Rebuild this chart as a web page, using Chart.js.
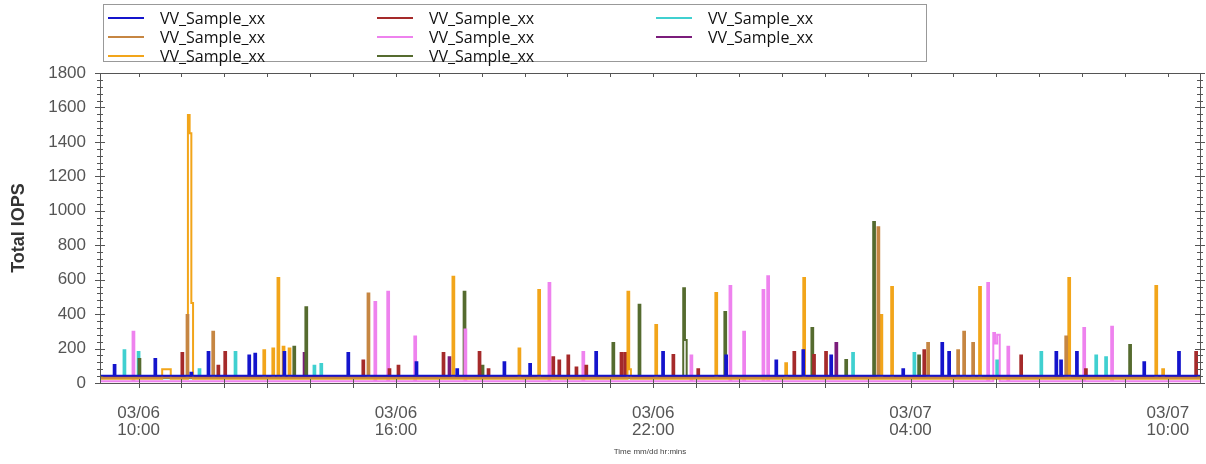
<!DOCTYPE html>
<html>
<head>
  <title>Total IOPS</title>
  <script src="https://cdn.jsdelivr.net/npm/chart.js"></script>
  <style>
    body { margin: 0; background: #fff; }
    #wrap { position: relative; width: 1206px; height: 464px; }
    #legend {
      position: absolute; left: 103px; top: 4px; width: 824px; height: 58px;
      border: 1px solid #999; background: #fff; box-sizing: border-box;
      font-family: "Open Sans", "Noto Sans", sans-serif; font-size: 16px; color: #111;
    }
    .item { position: absolute; height: 20px; line-height: 20px; white-space: nowrap; }
    .item span.swatch { position: absolute; left: 0; top: 9px; width: 36px; height: 2px; }
    .item span.name { position: absolute; left: 52px; top: 0; }
  </style>
</head>
<body>
  <div id="wrap">
    <canvas id="iopsChart" width="1206" height="464"></canvas>
    <div id="legend"></div>
  </div>

  <script>
    // time is in hours from 03/06 00:00
    const seriesNames = ["VV_Sample_xx", "VV_Sample_xx", "VV_Sample_xx", "VV_Sample_xx",
                         "VV_Sample_xx", "VV_Sample_xx", "VV_Sample_xx", "VV_Sample_xx"];
    const seriesColors = ["#1414CC", "#C68642", "#F2A51A", "#A52A2A",
                          "#EE82EE", "#556B2F", "#40D0D0", "#7B1C7B"];

    const blueIops = [[9.1,42],[9.42,105],[9.46,42],[10.37,140],[10.41,42],[11.21,60],[11.25,42],[11.61,180],[11.65,42],
      [12.56,160],[12.60,42],[12.70,170],[12.74,42],[13.38,180],[13.42,42],[14.87,174],[14.91,42],[16.46,120],[16.50,42],
      [17.41,80],[17.45,42],[18.51,120],[18.55,42],[19.11,110],[19.15,42],[20.65,180],[20.69,42],[22.21,180],[22.25,42],
      [23.68,160],[23.72,42],[24.85,130],[24.89,42],[25.48,190],[25.52,42],[26.13,160],[26.17,42],[27.81,80],[27.85,42],
      [28.72,232],[28.76,42],[28.88,180],[28.92,42],[31.38,180],[31.42,42],[31.49,130],[31.53,42],[31.86,180],[31.90,42],
      [33.43,120],[33.47,42],[34.24,180],[34.28,42],[34.75,42]];
    const peruIops = [[9.1,30],[11.12,395],[11.16,30],[11.72,297],[11.76,30],[15.34,520],[15.38,30],[27.23,905],[27.27,30],
      [28.39,232],[28.43,30],[29.09,190],[29.13,30],[29.23,297],[29.27,30],[29.44,232],[29.48,30],[31.61,270],[31.65,30],[34.75,30]];
    const orangeIops = [[9.1,25],[10.55,80],[10.75,25],[11.15,1556],[11.19,1450],[11.23,465],[11.27,25],[12.91,190],[12.95,25],
      [13.12,200],[13.16,25],[13.24,610],[13.28,25],[13.36,210],[13.40,25],[13.50,200],[13.54,25],[17.32,617],[17.36,25],
      [18.86,200],[18.90,25],[19.32,540],[19.36,25],[21.40,530],[21.44,80],[21.48,25],[22.05,337],[22.09,25],[23.45,522],[23.49,25],
      [25.08,115],[25.12,25],[25.50,610],[25.54,25],[27.30,395],[27.34,25],[27.55,558],[27.59,25],[29.60,558],[29.64,25],
      [31.68,610],[31.72,25],[33.71,563],[33.75,25],[33.87,80],[33.91,25],[34.75,25]];
    const darkRedIops = [[9.1,35],[11.00,174],[11.04,35],[11.84,100],[11.88,35],[12.00,180],[12.04,35],[15.22,130],[15.26,35],
      [15.83,80],[15.87,35],[16.04,100],[16.08,35],[17.09,174],[17.13,35],[17.93,180],[17.97,35],[18.14,80],[18.18,35],
      [19.65,150],[19.69,35],[19.79,130],[19.83,35],[20.00,160],[20.04,35],[20.19,90],[20.23,35],[20.42,100],[20.46,35],
      [21.24,174],[21.28,35],[21.33,174],[21.37,35],[22.45,162],[22.49,35],[23.03,80],[23.07,35],[25.27,180],[25.31,35],
      [25.73,162],[25.77,35],[26.01,180],[26.05,35],[28.30,190],[28.34,35],[30.56,160],[30.60,35],[32.07,80],[32.11,35],
      [34.64,180],[34.68,35],[34.75,35]];
    const violetIops = [[9.1,10],[9.86,297],[9.90,10],[15.50,470],[15.54,10],[15.80,530],[15.84,10],[16.43,270],[16.47,10],
      [17.60,310],[17.64,10],[19.56,580],[19.60,10],[20.35,180],[20.39,10],[22.87,160],[22.91,10],[23.78,563],[23.82,10],
      [24.10,297],[24.14,10],[24.55,540],[24.59,10],[24.66,620],[24.70,10],[29.79,580],[29.83,10],[29.93,290],[29.97,230],
      [30.02,280],[30.08,10],[30.26,210],[30.30,10],[32.03,320],[32.07,10],[32.68,327],[32.72,10],[34.75,10]];
    const oliveIops = [[9.1,30],[10.0,140],[10.04,30],[13.61,210],[13.65,30],[13.89,440],[13.93,30],[17.58,530],[17.62,30],
      [18.00,100],[18.04,30],[21.05,232],[21.09,30],[21.66,455],[21.70,30],[22.70,550],[22.74,250],[22.78,30],[23.66,412],[23.70,30],
      [25.69,320],[25.73,30],[26.48,133],[26.52,30],[27.13,935],[27.17,30],[28.18,160],[28.22,30],[33.10,220],[33.14,30],[34.75,30]];
    const cyanIops = [[9.1,28],[9.65,190],[9.69,28],[9.98,180],[10.02,28],[11.40,80],[11.44,28],[12.24,180],[12.28,28],
      [14.08,100],[14.12,28],[14.24,110],[14.28,28],[26.64,174],[26.68,28],[28.07,174],[28.11,28],[30.00,130],[30.04,28],
      [31.03,180],[31.07,28],[32.31,160],[32.35,28],[32.54,150],[32.58,28],[34.75,28]];
    const purpleIops = [[9.1,38],[13.85,174],[13.89,38],[17.23,150],[17.27,38],[26.25,232],[26.29,38],[34.75,38]];

    const allSeries = [blueIops, peruIops, orangeIops, darkRedIops, violetIops, oliveIops, cyanIops, purpleIops];

    const xLabelHours = [10, 16, 22, 28, 34];
    const xLabelText = [["03/06", "10:00"], ["03/06", "16:00"], ["03/06", "22:00"], ["03/07", "04:00"], ["03/07", "10:00"]];
    const yMinorStep = 40;

    // legend: 3 columns, filled column by column
    const legendCols = [[0, 1, 2], [3, 4, 5], [6, 7]];
    const legendColX = [4, 273, 552];
    const legend = document.getElementById("legend");
    legendCols.forEach((col, ci) => {
      col.forEach((si, ri) => {
        const item = document.createElement("div");
        item.className = "item";
        item.style.left = legendColX[ci] + "px";
        item.style.top = (3 + ri * 19) + "px";
        item.innerHTML = '<span class="swatch" style="background:' + seriesColors[si] + '"></span>' +
                         '<span class="name">' + seriesNames[si] + '</span>';
        legend.appendChild(item);
      });
    });

    // box round the plot, with tick marks crossing every edge
    const frameTicks = {
      id: "frameTicks",
      afterDatasetsDraw(chart) {
        const { ctx, chartArea: a, scales: { x, y } } = chart;
        ctx.save();
        ctx.strokeStyle = "#555";
        ctx.lineWidth = 1;
        ctx.strokeRect(a.left + 0.5, a.top + 0.5, a.right - a.left, a.bottom - a.top);
        ctx.beginPath();
        for (let v = y.min; v <= y.max; v += yMinorStep) {
          const py = Math.round(y.getPixelForValue(v)) + 0.5;
          const len = v % 200 === 0 ? 5 : 3;
          ctx.moveTo(a.left - len, py); ctx.lineTo(a.left + len, py);
          ctx.moveTo(a.right - len, py); ctx.lineTo(a.right + len, py);
        }
        x.ticks.forEach(t => {
          const px = Math.round(x.getPixelForValue(t.value)) + 0.5;
          ctx.moveTo(px, a.bottom - 4); ctx.lineTo(px, a.bottom + 5);
          ctx.moveTo(px, a.top); ctx.lineTo(px, a.top + 4);
        });
        ctx.stroke();
        ctx.restore();
      }
    };

    new Chart(document.getElementById("iopsChart"), {
      type: "line",
      data: {
        datasets: allSeries.map((s, i) => ({
          label: seriesNames[i],
          data: s,
          borderColor: seriesColors[i],
          borderWidth: 2,
          pointRadius: 0,
          stepped: true,
          fill: false
        }))
      },
      options: {
        responsive: false,
        animation: false,
        devicePixelRatio: 1,
        layout: { padding: { top: 73, right: 6, left: 0, bottom: 0 } },
        plugins: { legend: { display: false }, tooltip: { enabled: false } },
        scales: {
          x: {
            type: "linear",
            min: 9.1,
            max: 34.75,
            grid: { display: false },
            border: { display: false },
            ticks: {
              stepSize: 1,
              includeBounds: false,
              autoSkip: false,
              maxRotation: 0,
              padding: 13,
              color: "#555",
              font: { family: "Liberation Sans, Arial, sans-serif", size: 17, lineHeight: 1.05 },
              callback: v => {
                const k = xLabelHours.indexOf(v);
                return k >= 0 ? xLabelText[k] : "";
              }
            },
            title: {
              display: true,
              text: "Time mm/dd hr:mins",
              color: "#444",
              font: { family: "Liberation Sans, Arial, sans-serif", size: 8 },
              padding: { top: 0, bottom: 7 }
            },
            afterFit: s => { s.height = 81; }
          },
          y: {
            min: 0,
            max: 1800,
            grid: { display: false },
            border: { display: false },
            ticks: {
              stepSize: 200,
              padding: 6,
              color: "#555",
              font: { family: "Liberation Sans, Arial, sans-serif", size: 17 },
              callback: v => String(v)
            },
            title: {
              display: true,
              text: "Total IOPS",
              color: "#333",
              font: { family: "Liberation Sans, Arial, sans-serif", size: 18, weight: "bold" },
              padding: { top: 8, bottom: 0 }
            },
            afterFit: s => { s.width = 100; }
          }
        }
      },
      plugins: [frameTicks]
    });
  </script>
</body>
</html>
